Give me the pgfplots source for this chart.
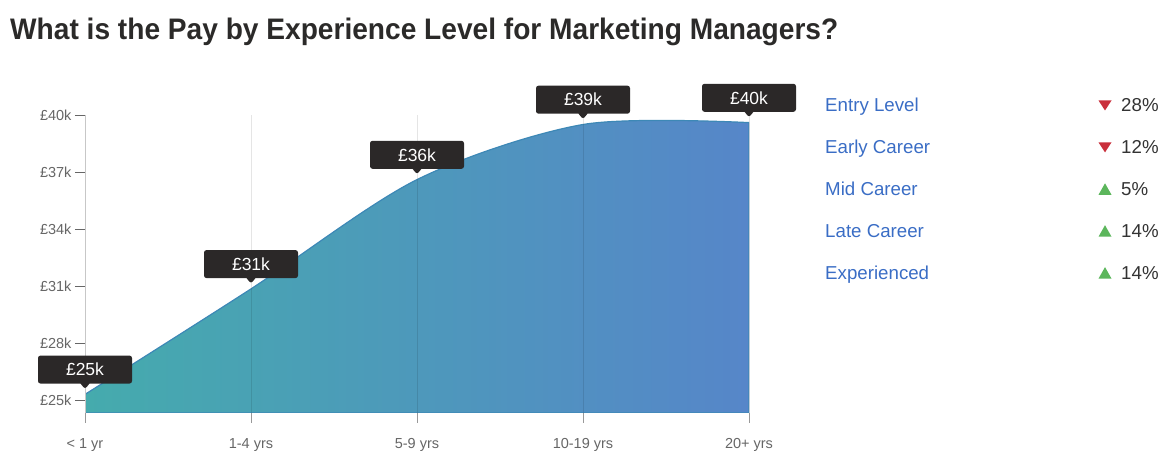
\documentclass[border=0pt]{standalone}
\usepackage{fontspec}
\setmainfont{Liberation Sans}
\usepackage{pgfplots}
\usepackage{pgfplotstable}
\pgfplotsset{compat=1.18}
\usetikzlibrary{shapes.callouts}
\definecolor{titlec}{HTML}{2B2A29}
\definecolor{legc}{HTML}{3A6DC5}
\definecolor{pctc}{HTML}{333333}
\definecolor{downc}{HTML}{C9303C}
\definecolor{upc}{HTML}{5CB65C}
\definecolor{areaL}{HTML}{45ABAD}
\definecolor{areaR}{HTML}{5686C9}
\definecolor{curvec}{HTML}{3D88B6}
\definecolor{tipc}{HTML}{2B2828}
\definecolor{tickc}{HTML}{666666}

\pgfplotstableread{
x y label
0 25.3 £25k
1 30.85 £31k
2 36.6 £36k
3 39.5 £39k
4 39.6 £40k
}\paydata

\begin{document}
\begin{tikzpicture}[x=1pt,y=1pt]
\path[use as bounding box] (0,0) rectangle (1172,470);
\node[anchor=base west, inner sep=0, text=titlec] at (10,430)
  {\resizebox{828pt}{21.5pt}{\bfseries What is the Pay by Experience Level for Marketing Managers?}};

\begin{axis}[
  at={(85pt,57pt)}, anchor=south west, scale only axis,
  width=664pt, height=298pt,
  xmin=0, xmax=4, ymin=24.32, ymax=40,
  axis x line*=bottom, axis y line*=left,
  x axis line style={draw=none},
  y axis line style={draw=black!22, line width=1pt},
  xtick={0,1,2,3,4},
  xticklabels={< 1 yr, 1-4 yrs, 5-9 yrs, 10-19 yrs, 20+ yrs},
  ytick={25,28,31,34,37,40},
  yticklabels={£25k,£28k,£31k,£34k,£37k,£40k},
  tick align=outside,
  major tick length=10pt,
  x tick style={draw=black!40, line width=1pt},
  y tick style={draw=tickc, line width=0.8pt},
  xmajorgrids,
  major grid style={draw=black, opacity=0.1, line width=1pt},
  tick label style={font=\fontsize{14.5}{16}\selectfont, text=tickc},
  xticklabel style={yshift=-12pt},
  axis on top,
  clip=true,
]
\addplot[smooth, tension=0.5, draw=curvec, line width=1.2pt, left color=areaL, right color=areaR]
  table[x=x, y=y] {\paydata} \closedcycle;
\addplot[draw=none, mark=none, nodes near coords, point meta=explicit symbolic,
  nodes near coords style={shape=rectangle callout, fill=tipc, text=white,
    font=\fontsize{17.5}{19}\selectfont, rounded corners=2.5pt,
    minimum width=94pt, minimum height=28pt, inner sep=0pt,
    callout relative pointer={(0pt,-5.5pt)}, callout pointer width=9pt,
    anchor=pointer, yshift=5pt}]
  table[x=x, y=y, meta=label] {\paydata};
\end{axis}

\begin{scope}[every node/.style={anchor=base west, inner sep=0, font=\fontsize{18.7}{21}\selectfont}]
\node[text=legc] at (825,358.5) {Entry Level};
\node[text=legc] at (825,316.6) {Early Career};
\node[text=legc] at (825,274.7) {Mid Career};
\node[text=legc] at (825,232.8) {Late Career};
\node[text=legc] at (825,190.9) {Experienced};
\node[text=pctc] at (1121,358.5) {28\%};
\node[text=pctc] at (1121,316.6) {12\%};
\node[text=pctc] at (1121,274.7) {5\%};
\node[text=pctc] at (1121,232.8) {14\%};
\node[text=pctc] at (1121,190.9) {14\%};
\end{scope}
\fill[downc] (1098.5,369.5) -- (1111.5,369.5) -- (1105,359.5) -- cycle;
\fill[downc] (1098.5,327.6) -- (1111.5,327.6) -- (1105,317.6) -- cycle;
\fill[upc] (1098.5,275.2) -- (1111.5,275.2) -- (1105,286.7) -- cycle;
\fill[upc] (1098.5,233.3) -- (1111.5,233.3) -- (1105,244.8) -- cycle;
\fill[upc] (1098.5,191.4) -- (1111.5,191.4) -- (1105,202.9) -- cycle;
\end{tikzpicture}
\end{document}
